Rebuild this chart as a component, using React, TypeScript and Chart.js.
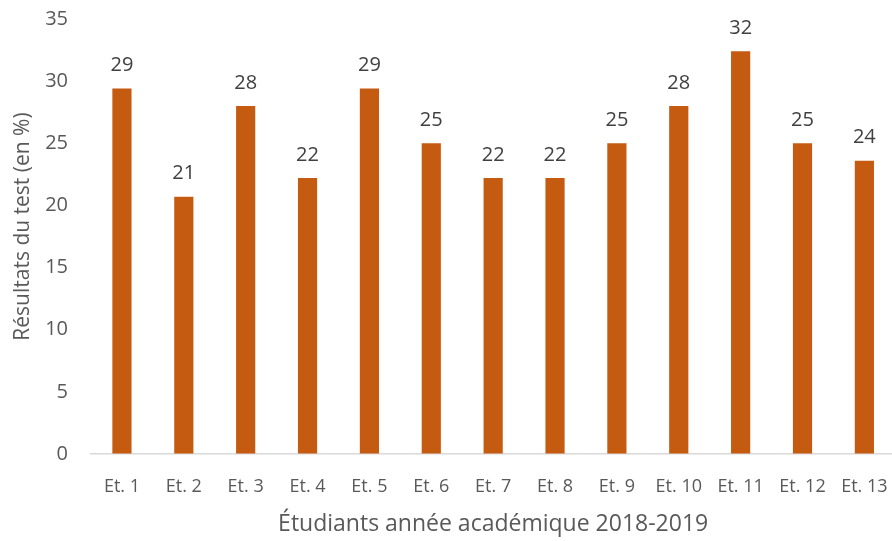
import React, { useEffect, useRef } from "react";
import { Chart, registerables } from "chart.js";

Chart.register(...registerables);

const categories = ["Et. 1", "Et. 2", "Et. 3", "Et. 4", "Et. 5", "Et. 6", "Et. 7", "Et. 8", "Et. 9", "Et. 10", "Et. 11", "Et. 12", "Et. 13"];
const scores = [29.4, 20.7, 28, 22.2, 29.4, 25, 22.2, 22.2, 25, 28, 32.4, 25, 23.6];
const yTitle = "Résultats du test (en %)";
const xTitle = "Étudiants année académique 2018-2019";

const FONT = "'Open Sans', 'Noto Sans', sans-serif";

const valueLabels = {
  id: "valueLabels",
  afterDatasetsDraw(chart: any) {
    const ctx = chart.ctx;
    const meta = chart.getDatasetMeta(0);
    ctx.save();
    ctx.font = `20px ${FONT}`;
    ctx.fillStyle = "#404040";
    ctx.textAlign = "center";
    ctx.textBaseline = "middle";
    meta.data.forEach((bar: any, i: number) => {
      ctx.fillText(String(Math.round(scores[i])), bar.x, bar.y - 23);
    });
    ctx.restore();
  },
};

const yTitlePlugin = {
  id: "yTitlePlugin",
  afterDraw(chart: any) {
    const ctx = chart.ctx;
    const area = chart.chartArea;
    ctx.save();
    ctx.font = `21px ${FONT}`;
    ctx.fillStyle = "#595959";
    ctx.textAlign = "center";
    ctx.textBaseline = "middle";
    ctx.translate(23, (area.top + area.bottom) / 2 - 10);
    ctx.rotate(-Math.PI / 2);
    ctx.fillText(yTitle, 0, 0);
    ctx.restore();
  },
};

export default function App() {
  const ref = useRef<HTMLCanvasElement>(null);
  useEffect(() => {
    if (!ref.current) return;
    const chart = new Chart(ref.current, {
      type: "bar",
      data: {
        labels: categories,
        datasets: [
          {
            data: scores,
            backgroundColor: "#C55A11",
            borderWidth: 0,
            categoryPercentage: 1,
            barPercentage: 0.31,
          },
        ],
      },
      options: {
        animation: false,
        responsive: false,
        maintainAspectRatio: false,
        layout: { padding: { top: 6, right: 11, left: 0, bottom: 3 } },
        plugins: { legend: { display: false }, tooltip: { enabled: false } },
        scales: {
          x: {
            grid: { display: false, drawTicks: false },
            border: { display: true, color: "#D9D9D9", width: 1.5 },
            ticks: { color: "#595959", font: { family: FONT, size: 18 }, padding: 22, maxRotation: 0, autoSkip: false },
            title: { display: true, text: xTitle, color: "#595959", font: { family: FONT, size: 23 }, padding: { top: 7, bottom: 0 } },
            afterFit: (s: any) => { s.height = 84; },
          },
          y: {
            min: 0,
            max: 35,
            grid: { display: true, drawOnChartArea: false, drawTicks: true, tickLength: 16, color: "rgba(0,0,0,0)" },
            border: { display: false },
            ticks: { stepSize: 5, color: "#595959", font: { family: FONT, size: 20 }, padding: 7 },
            title: { display: false },
            afterFit: (s: any) => { s.width = 91; },
          },
        },
      },
      plugins: [valueLabels, yTitlePlugin],
    });
    return () => chart.destroy();
  }, []);
  return (
    <div style={{ position: "fixed", left: 0, top: 0, width: 892, height: 541, overflow: "hidden", background: "#fff" }}>
      <canvas ref={ref} width={910} height={541} style={{ display: "block" }} />
    </div>
  );
}
